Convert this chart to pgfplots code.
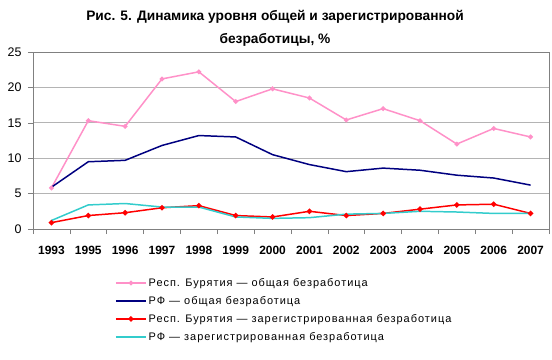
\documentclass[border=0pt]{standalone}
\usepackage{fontspec}
\setmainfont{Liberation Sans}
\newfontfamily\legfont[LetterSpace=9]{Liberation Sans}
\usepackage{pgfplots}
\pgfplotsset{compat=1.18}
\definecolor{bpink}{RGB}{255,145,200}
\definecolor{rfnavy}{RGB}{0,0,128}
\definecolor{bred}{RGB}{255,0,0}
\definecolor{rfcyan}{RGB}{51,204,204}
\definecolor{axgray}{RGB}{128,128,128}
\definecolor{grdgray}{RGB}{180,180,180}
\begin{document}
\begin{tikzpicture}
\useasboundingbox (-33bp,-131bp) rectangle (519bp,229bp);
\begin{axis}[
  scale only axis,
  width=516bp, height=177bp,
  xmin=-0.5, xmax=13.5,
  ymin=0, ymax=25,
  ytick={0,5,10,15,20,25},
  xtick={0,...,13},
  xticklabels={1993,1995,1996,1997,1998,1999,2000,2001,2002,2003,2004,2005,2006,2007},
  x tick label style={font=\fontsize{12}{14}\selectfont\bfseries, yshift=-9bp},
  y tick label style={font=\fontsize{12.5}{14}\selectfont, xshift=-3bp},
  /pgf/number format/assume math mode=true,
  major x tick style={draw=none},
  minor xtick={-0.5,0.5,...,13.5},
  minor tick length=5bp,
  major tick length=5bp,
  tick align=outside,
  tick style={axgray, line width=0.6pt},
  xtick pos=bottom, ytick pos=left,
  ymajorgrids,
  grid style={grdgray, line width=0.8pt},
  axis line style={axgray, line width=0.8pt},
  title={Рис. 5. Динамика уровня общей и зарегистрированной\\безработицы, \%},
  title style={align=center, font=\fontsize{13.8}{23}\selectfont\bfseries, yshift=-3.5bp, xshift=-16bp},
  legend style={draw=none, fill=none, at={(82bp,-47bp)}, anchor=north west,
    font=\fontsize{11}{12}\selectfont\legfont, row sep=4.5bp, inner sep=0pt,
    cells={anchor=west}},
  legend image code/.code={
    \draw[mark repeat=2,mark phase=2,#1] plot coordinates {(0bp,0bp) (15bp,0bp) (30bp,0bp)};},
  legend cell align=left,
  every axis plot/.append style={line width=1.5pt},
]
\addplot[bpink, mark=*, mark size=1.6pt] coordinates {
(0,5.8)(1,15.3)(2,14.5)(3,21.2)(4,22.2)(5,18.0)(6,19.8)(7,18.5)(8,15.4)(9,17.0)(10,15.3)(11,12.0)(12,14.2)(13,13.0)};
\addlegendentry{Респ. Бурятия — общая безработица}
\addplot[rfnavy] coordinates {
(0,5.9)(1,9.5)(2,9.7)(3,11.8)(4,13.2)(5,13.0)(6,10.5)(7,9.1)(8,8.1)(9,8.6)(10,8.3)(11,7.6)(12,7.2)(13,6.2)};
\addlegendentry{РФ — общая безработица}
\addplot[bred, mark=*, mark size=1.9pt] coordinates {
(0,0.9)(1,1.9)(2,2.3)(3,3.0)(4,3.3)(5,1.9)(6,1.7)(7,2.5)(8,1.9)(9,2.2)(10,2.8)(11,3.4)(12,3.5)(13,2.2)};
\addlegendentry{Респ. Бурятия — зарегистрированная безработица}
\addplot[rfcyan] coordinates {
(0,1.2)(1,3.4)(2,3.6)(3,3.1)(4,3.1)(5,1.7)(6,1.5)(7,1.6)(8,2.1)(9,2.2)(10,2.5)(11,2.4)(12,2.2)(13,2.2)};
\addlegendentry{РФ — зарегистрированная безработица}
\end{axis}
\end{tikzpicture}
\end{document}
